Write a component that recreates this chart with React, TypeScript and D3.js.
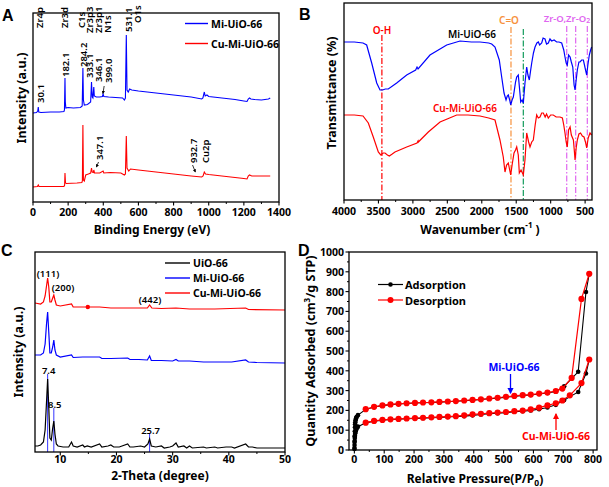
import React from "react";
import * as d3 from "d3";

type Pt = [number, number];
const FF = "'Noto Sans', 'DejaVu Sans', sans-serif";
const BLUE = "#0000ff";
const RED = "#ff0000";

// ---------- Panel A: XPS survey (binding energy eV, intensity a.u.) ----------
const xpsMi: Pt[] = [[0,89],[20,89.5],[27,91],[30,95],[33,90],[45,89.5],[100,90],[150,90],[176,90.5],[179,92],[182,124],[184,100],[187,94],[200,94.5],[230,94],[270,94.5],[280,96],[284,134],[287,102],[292,97],[310,97.5],[328,100],[333,120],[337,105],[341,104],[346,115],[349,106],[360,105],[380,105],[395,105.5],[399,108],[403,105.5],[430,105],[470,104.5],[510,104],[520,102],[526,104],[531,167],[535,112],[542,110],[550,113],[562,112],[600,111],[700,109],[800,107],[900,105],[960,103],[967,104],[975,110],[980,106],[990,107],[1000,105.5],[1050,104.5],[1100,103.5],[1150,102.5],[1200,101],[1218,100.5],[1225,103],[1232,104],[1240,103],[1260,102.5],[1300,102],[1340,103],[1350,104]];
const xpsCu: Pt[] = [[0,15],[25,15.5],[30,17],[34,15.5],[100,15.5],[176,15.5],[180,17],[182,29],[185,19],[190,18.5],[250,19],[278,19.5],[281,21],[284,77],[287,22],[292,21],[300,27],[315,28],[328,29],[333,34],[337,30],[343,29.5],[346,32],[350,29],[380,29],[399,31],[403,29],[440,29.5],[500,29],[520,27],[526,28],[531,66],[535,34],[545,31],[555,33],[600,32],[700,30],[800,28],[900,26],[960,25],[968,26],[975,30],[982,28],[1000,27.5],[1100,25.5],[1200,23.5],[1218,23],[1225,26],[1232,27],[1245,26],[1300,26],[1350,26]];
const xpsTicks = [0, 200, 400, 600, 800, 1000, 1200, 1400];
// [text, BE position, bottom of text (intensity units)]
const xpsLabelsTop: [string, number, number][] = [
  ["Zr4p", 34, 174], ["Zr3d", 176, 174], ["C1s", 274, 174], ["Zr3p3", 319, 169], ["Zr3p1", 370, 169], ["N1s", 421, 169],
  ["531.1", 540, 170], ["O1s", 592, 179],
  ["30.1", 40, 99], ["182.1", 182, 125], ["284.2", 284, 135], ["333.1", 319, 124], ["346.1", 370, 120], ["399.0", 427, 119],
];
const xpsLabelsRed: [string, number, number][] = [["347.1", 375, 42], ["932.7", 910, 39], ["Cu2p", 979, 39]];

// ---------- Panel B: FTIR ----------
const ftirMi: Pt[] = [[4000,158],[3850,158],[3724,157],[3671,155],[3598,137],[3525,117],[3477,110],[3440,110],[3400,111],[3357,111],[3235,117],[3090,125],[2960,130],[2940,133],[2925,131],[2752,145],[2509,155],[2316,159],[2150,158],[2026,158],[1900,157],[1856,156],[1808,153],[1746,140],[1711,123],[1677,107],[1648,100],[1630,104],[1615,105],[1595,100],[1580,95],[1560,100],[1542,103],[1510,118],[1493,123],[1470,125],[1450,110],[1435,98],[1415,100],[1397,97],[1373,117],[1348,133],[1330,125],[1310,120],[1290,130],[1275,137],[1250,147],[1227,153],[1200,157],[1179,158],[1160,155],[1130,157],[1110,162],[1082,161],[1060,156],[1034,157],[1010,161],[985,159],[950,160],[913,158],[880,158],[840,157],[810,150],[792,143],[775,137],[759,135],[740,145],[718,143],[700,138],[679,133],[660,115],[646,110],[630,120],[613,130],[590,138],[574,138],[550,140],[525,140],[500,132],[477,125],[460,135],[439,145],[420,150],[405,153]];
const ftirCu: Pt[] = [[4000,85],[3850,85],[3724,84],[3647,77],[3575,63],[3502,48],[3467,45],[3430,47],[3405,47],[3370,45],[3342,44],[3300,46],[3260,48],[3090,53],[2940,57],[2925,59],[2921,58],[2776,68],[2606,78],[2364,85],[2200,85],[2026,84],[1900,82],[1808,80],[1736,60],[1688,43],[1663,28],[1640,35],[1615,37],[1595,30],[1580,25],[1560,35],[1532,47],[1510,50],[1493,53],[1470,45],[1455,27],[1430,30],[1397,25],[1373,40],[1348,67],[1320,58],[1300,53],[1275,58],[1252,60],[1225,75],[1203,85],[1180,82],[1155,83],[1130,87],[1107,87],[1080,83],[1060,86],[1034,82],[1000,85],[962,85],[920,83],[865,83],[830,82],[810,75],[792,67],[775,58],[759,53],[740,70],[718,73],[700,65],[670,60],[655,48],[646,40],[630,52],[613,60],[590,66],[566,67],[540,64],[516,63],[495,58],[477,52],[455,62],[429,67],[405,65]];
const ftirTicks = [4000, 3500, 3000, 2500, 2000, 1500, 1000, 500];
// [wavenumber, top (T units), colour]
const ftirMarks: [number, number, string][] = [[3450, 165, "#ff0000"], [1576, 173, "#f7913d"], [1397, 171, "#129b5b"], [767, 174, "#e066f0"], [637, 174, "#e066f0"], [468, 174, "#e066f0"]];

// ---------- Panel C: XRD ----------
const xrdUiO: Pt[] = [[5.5,6],[6.0,6],[6.5,7],[7.0,10],[7.3,22],[7.55,50],[7.75,73],[7.95,45],[8.15,14],[8.4,12],[8.65,24],[8.85,31],[9.05,18],[9.3,8],[9.6,6],[10.5,5],[11.5,5],[12.0,10],[12.3,6],[13,5],[14.0,7],[14.3,5],[14.8,6],[15.5,5],[17.0,8],[17.4,5],[18.5,6],[19.0,7],[19.5,5],[20.5,5],[22.0,8],[22.4,5],[23,5],[24.3,6],[25.0,5],[25.6,8],[25.9,13],[26.2,6],[27,5],[28.0,6],[28.5,4],[29.5,5],[30.0,6],[30.6,9],[31,5],[32.0,6],[32.5,4],[33.0,6],[33.5,4],[35.5,5],[36,4],[37.5,5],[38,4],[39.5,5],[40.5,5],[41,4],[43.0,8],[43.5,5],[44.2,5],[45,4],[46.5,4],[48,4],[50,4]];
const xrdMi: Pt[] = [[5.5,97],[6.5,97],[7.0,99],[7.3,108],[7.55,128],[7.75,140],[7.95,120],[8.15,99],[8.4,99],[8.65,105],[8.85,112],[9.05,102],[9.3,97],[10,95],[12,97],[12.3,94.5],[14,95],[17,95],[17.4,93.5],[19,93.5],[22,94],[22.4,92.5],[24,92.5],[25.5,92],[25.9,96],[26.2,91.5],[28,91.5],[30,91],[30.6,92.5],[31,91],[33,91],[35.5,90],[37.5,90],[40.5,90],[43,92],[43.5,90],[45,89.5],[50,89]];
const xrdCu: Pt[] = [[5.5,149],[6.5,148],[7.0,150],[7.3,156],[7.55,166],[7.75,174],[7.95,165],[8.15,150],[8.4,150],[8.65,154],[8.85,157],[9.05,152],[9.3,147],[10,146],[12,148],[12.3,145],[14,145],[14.9,145],[17,145],[19,144],[22,144],[25.5,144],[25.9,147],[26.3,144],[28,143.5],[30.6,144],[33,143],[37.5,143],[43,144],[43.5,142.5],[50,142]];
const xrdDot: Pt = [14.9, 145];
const xrdTicks = [10, 20, 30, 40, 50];
// [text, 2θ position, label centre height, line top]
const xrdPeakLabels: [string, number, number, number][] = [["7.4", 7.75, 82, 78], ["8.5", 8.85, 48, 44], ["25.7", 25.9, 22, 18]];

// ---------- Panel D: N2 isotherms ----------
const miAds: Pt[] = [[0.3,10],[0.6,40],[1,70],[1.5,95],[2,115],[2.5,130],[3,140],[4,150],[5,157],[6,162],[8,168],[12,176],[38,205],[66,217],[94,224],[121,229],[148,232],[175,235],[203,237],[230,239],[258,240],[285,242],[313,244],[340,246],[368,249],[396,252],[424,255],[452,259],[480,262],[508,267],[536,271],[564,275],[591,278],[619,283],[647,288],[675,295],[703,322],[750,395],[776,798],[787,890]];
const miDes: Pt[] = [[787,890],[761,763],[728,364],[697,310],[675,298],[647,290],[619,285],[591,280],[564,277],[536,273],[508,269],[480,264],[452,260],[424,256],[396,253],[368,250],[340,247],[313,245],[285,243],[258,241],[230,240],[203,238],[175,236],[148,233],[121,230],[94,225],[66,218],[38,206]];
const cuAds: Pt[] = [[0.3,5],[0.6,25],[1,45],[1.5,60],[2,72],[3,85],[4,93],[5,99],[6,104],[8,110],[12,118],[38,137],[66,146],[94,151],[121,154],[148,156],[175,158],[203,159],[230,161],[258,163],[285,164],[313,167],[340,169],[368,171],[396,175],[424,179],[452,183],[480,186],[508,189],[536,193],[564,196],[591,200],[619,206],[647,215],[675,228],[703,252],[750,293],[776,386],[787,457]];
const cuDes: Pt[] = [[787,457],[761,338],[722,276],[697,250],[675,236],[647,225],[619,214],[591,205],[564,199],[536,196],[508,192],[480,189],[452,186],[424,183],[396,180],[368,175],[340,171],[313,169],[285,167],[258,165],[230,163],[203,161],[175,159],[148,157],[121,155],[94,152],[66,147],[38,138]];
const isoXTicks = [0, 100, 200, 300, 400, 500, 600, 700, 800];
const isoYTicks = [0, 100, 200, 300, 400, 500, 600, 700, 800, 900, 1000];

const txt = (extra: any = {}) => ({ fontFamily: FF, fontWeight: 700, fill: "#000", ...extra });

function Box({ x0, x1, y0, y1 }: { x0: number; x1: number; y0: number; y1: number }) {
  return <rect x={x0} y={y0} width={x1 - x0} height={y1 - y0} fill="none" stroke="#000" strokeWidth={1.3} />;
}

function BottomTicks({ scale, ticks, minors, y, labelY, fmt }: any) {
  return (
    <g>
      {minors.map((t: number, i: number) => (
        <line key={"m" + i} x1={scale(t)} x2={scale(t)} y1={y} y2={y + 2} stroke="#000" strokeWidth={1} />
      ))}
      {ticks.map((t: number, i: number) => (
        <g key={i}>
          <line x1={scale(t)} x2={scale(t)} y1={y} y2={y + 3.5} stroke="#000" strokeWidth={1.1} />
          <text x={scale(t)} y={labelY} textAnchor="middle" dominantBaseline="central" {...txt({ fontSize: 10.5 })}>
            {fmt ? fmt(t) : t}
          </text>
        </g>
      ))}
    </g>
  );
}

export default function App() {
  // ---- scales
  const axA = d3.scaleLinear().domain([0, 1400]).range([33, 279]);
  const ayA = d3.scaleLinear().domain([0, 189]).range([202, 13]);
  const axB = d3.scaleLinear().domain([4000, 400]).range([344, 592]);
  const ayB = d3.scaleLinear().domain([0, 197]).range([200, 3]);
  const axC = d3.scaleLinear().domain([5.5, 50]).range([35, 285]);
  const ayC = d3.scaleLinear().domain([0, 200]).range([452, 252]);
  const axD = d3.scaleLinear().domain([-18, 813]).range([349, 597]);
  const ayD = d3.scaleLinear().domain([0, 1000]).range([450, 252]);

  const lineA = d3.line<Pt>().x((d) => axA(d[0])).y((d) => ayA(d[1]));
  const lineB = d3.line<Pt>().x((d) => axB(d[0])).y((d) => ayB(d[1]));
  const lineC = d3.line<Pt>().x((d) => axC(d[0])).y((d) => ayC(d[1]));
  const lineD = d3.line<Pt>().x((d) => axD(d[0])).y((d) => ayD(d[1]));

  const rotLabel = (key: string, s: string, x: number, yb: number, color: string, size = 9.5) => (
    <text key={key} transform={`translate(${x},${yb}) rotate(-90)`} textAnchor="start" dominantBaseline="central" {...txt({ fontSize: size, fontWeight: 600, fill: color })}>
      {s}
    </text>
  );

  const yTitle = (s: any, x: number, y: number) => (
    <text transform={`translate(${x},${y}) rotate(-90)`} textAnchor="middle" dominantBaseline="central" {...txt({ fontSize: 12.5 })}>
      {s}
    </text>
  );

  const range = (a: number, b: number, s: number) => d3.range(a, b + 1e-9, s);

  return (
    <svg width={609} height={487} viewBox="0 0 609 487" style={{ position: "absolute", left: 0, top: 0, background: "#fff" }}>
      <rect x={0} y={0} width={609} height={487} fill="#fff" />
      <defs>
        <marker id="arrK" viewBox="0 0 6 6" refX="5" refY="3" markerWidth="4" markerHeight="4" orient="auto">
          <path d="M0,0 L6,3 L0,6 z" fill="#000" />
        </marker>
        <marker id="arrB" viewBox="0 0 6 6" refX="5" refY="3" markerWidth="5" markerHeight="5" orient="auto">
          <path d="M0,0 L6,3 L0,6 z" fill={BLUE} />
        </marker>
        <marker id="arrR" viewBox="0 0 6 6" refX="5" refY="3" markerWidth="5" markerHeight="5" orient="auto">
          <path d="M0,0 L6,3 L0,6 z" fill={RED} />
        </marker>
      </defs>

      {/* ================= Panel A ================= */}
      <text x={2} y={21} {...txt({ fontSize: 16, fontFamily: "'Liberation Sans', Arial, sans-serif" })}>A</text>
      <path d={lineA(xpsMi) || ""} fill="none" stroke={BLUE} strokeWidth={1.1} />
      <path d={lineA(xpsCu) || ""} fill="none" stroke={RED} strokeWidth={1.1} />
      <Box x0={33} x1={279} y0={13} y1={202} />
      <BottomTicks scale={axA} ticks={xpsTicks} minors={range(100, 1300, 200)} y={202} labelY={212} />
      {xpsLabelsTop.map((l, i) => rotLabel("a" + i, l[0], axA(l[1]) + 0.5, ayA(l[2]), "#000"))}
      {xpsLabelsRed.map((l, i) => rotLabel("r" + i, l[0], axA(l[1]) + 0.5, ayA(l[2]), "#000"))}
      <line x1={axA(405)} y1={ayA(116)} x2={axA(398)} y2={ayA(108.5)} stroke="#000" strokeWidth={0.8} markerEnd="url(#arrK)" />
      <line x1={axA(373)} y1={ayA(40)} x2={axA(361)} y2={ayA(35)} stroke="#000" strokeWidth={0.8} markerEnd="url(#arrK)" />
      <line x1={axA(908)} y1={ayA(37)} x2={axA(924)} y2={ayA(30)} stroke="#000" strokeWidth={0.8} markerEnd="url(#arrK)" />
      <line x1={185} x2={208} y1={23.5} y2={23.5} stroke={BLUE} strokeWidth={1.4} />
      <text x={211} y={23.5} dominantBaseline="central" {...txt({ fontSize: 10.5 })}>Mi-UiO-66</text>
      <line x1={185} x2={208} y1={43.5} y2={43.5} stroke={RED} strokeWidth={1.4} />
      <text x={211} y={43.5} dominantBaseline="central" {...txt({ fontSize: 10.5 })}>Cu-Mi-UiO-66</text>
      <text x={152} y={229} textAnchor="middle" dominantBaseline="central" {...txt({ fontSize: 12 })}>Binding Energy (eV)</text>
      {yTitle("Intensity (a.u.)", 21, 98)}

      {/* ================= Panel B ================= */}
      <text x={299} y={20} {...txt({ fontSize: 16, fontFamily: "'Liberation Sans', Arial, sans-serif" })}>B</text>
      {ftirMarks.map((m, i) => (
        <line key={i} x1={axB(m[0])} x2={axB(m[0])} y1={ayB(m[1])} y2={200} stroke={m[2]} strokeWidth={1.2} strokeDasharray="6,2,1.5,2" />
      ))}
      <path d={lineB(ftirMi) || ""} fill="none" stroke={BLUE} strokeWidth={1.2} />
      <path d={lineB(ftirCu) || ""} fill="none" stroke={RED} strokeWidth={1.2} />
      <Box x0={344} x1={592} y0={3} y1={200} />
      <BottomTicks scale={axB} ticks={ftirTicks} minors={range(750, 3750, 500)} y={200} labelY={211} />
      <text x={382} y={30} textAnchor="middle" dominantBaseline="central" {...txt({ fontSize: 10, fontWeight: 600, fill: RED })}>O-H</text>
      <text x={509} y={20} textAnchor="middle" dominantBaseline="central" {...txt({ fontSize: 10, fontWeight: 600, fill: "#f7913d" })}>C=O</text>
      <text x={567} y={18} textAnchor="middle" dominantBaseline="central" {...txt({ fontSize: 9.5, fontWeight: 600, fill: "#e066f0" })}>
        Zr-O,Zr-O<tspan fontSize={7} dy={2}>2</tspan>
      </text>
      <text x={472} y={34} textAnchor="middle" dominantBaseline="central" {...txt({ fontSize: 10, fontWeight: 600 })}>Mi-UiO-66</text>
      <text x={465} y={108} textAnchor="middle" dominantBaseline="central" {...txt({ fontSize: 10, fontWeight: 600, fill: RED })}>Cu-Mi-UiO-66</text>
      <text x={480} y={229} textAnchor="middle" dominantBaseline="central" {...txt({ fontSize: 12 })}>
        Wavenumber  (cm<tspan fontSize={8} dy={-5}>-1</tspan><tspan dy={5}> )</tspan>
      </text>
      {yTitle("Transmittance (%)", 331.5, 93)}

      {/* ================= Panel C ================= */}
      <text x={1} y={256} {...txt({ fontSize: 16, fontFamily: "'Liberation Sans', Arial, sans-serif" })}>C</text>
      {xrdPeakLabels.map((l, i) => (
        <line key={i} x1={axC(l[1])} x2={axC(l[1])} y1={ayC(l[3])} y2={452} stroke={BLUE} strokeWidth={0.8} />
      ))}
      <path d={lineC(xrdUiO) || ""} fill="none" stroke="#000" strokeWidth={1.2} />
      <path d={lineC(xrdMi) || ""} fill="none" stroke={BLUE} strokeWidth={1.2} />
      <path d={lineC(xrdCu) || ""} fill="none" stroke={RED} strokeWidth={1.2} />
      <circle cx={axC(xrdDot[0])} cy={ayC(xrdDot[1])} r={2.2} fill={RED} />
      <Box x0={35} x1={285} y0={252} y1={452} />
      <BottomTicks scale={axC} ticks={xrdTicks} minors={range(15, 45, 10)} y={452} labelY={459} />
      {xrdPeakLabels.map((l, i) => (
        <text key={i} x={axC(l[1]) + 1} y={ayC(l[2])} textAnchor="middle" dominantBaseline="central" {...txt({ fontSize: 9.5, fontWeight: 600 })}>{l[0]}</text>
      ))}
      <text x={48} y={273} textAnchor="middle" dominantBaseline="central" {...txt({ fontSize: 9.5, fontWeight: 600 })}>(111)</text>
      <text x={63} y={287} textAnchor="middle" dominantBaseline="central" {...txt({ fontSize: 9.5, fontWeight: 600 })}>(200)</text>
      <text x={150} y={299} textAnchor="middle" dominantBaseline="central" {...txt({ fontSize: 9.5, fontWeight: 600 })}>(442)</text>
      {[["UiO-66", "#000", 263], ["Mi-UiO-66", BLUE, 278], ["Cu-Mi-UiO-66", RED, 293]].map((l: any, i) => (
        <g key={i}>
          <line x1={165} x2={190} y1={l[2]} y2={l[2]} stroke={l[1]} strokeWidth={1.4} />
          <text x={193} y={l[2]} dominantBaseline="central" {...txt({ fontSize: 10.5 })}>{l[0]}</text>
        </g>
      ))}
      <text x={160} y={475} textAnchor="middle" dominantBaseline="central" {...txt({ fontSize: 12 })}>2-Theta (degree)</text>
      {yTitle("Intensity (a.u.)", 18.5, 352)}

      {/* ================= Panel D ================= */}
      <text x={298} y={256} {...txt({ fontSize: 16, fontFamily: "'Liberation Sans', Arial, sans-serif" })}>D</text>
      {[[miAds, miDes], [cuAds, cuDes]].map((pair, k) => (
        <g key={k}>
          <path d={lineD(pair[0]) || ""} fill="none" stroke="#000" strokeWidth={1.1} />
          {pair[0].map((p, i) => (
            <circle key={"a" + i} cx={axD(p[0])} cy={ayD(p[1])} r={2.3} fill="#000" />
          ))}
          <path d={lineD(pair[1]) || ""} fill="none" stroke={RED} strokeWidth={1.2} />
          {pair[1].map((p, i) => (
            <circle key={"d" + i} cx={axD(p[0])} cy={ayD(p[1])} r={3.1} fill={RED} />
          ))}
        </g>
      ))}
      <Box x0={349} x1={597} y0={252} y1={450} />
      <BottomTicks scale={axD} ticks={isoXTicks} minors={range(50, 750, 100)} y={450} labelY={459} />
      {range(50, 950, 100).map((t, i) => (
        <line key={"ym" + i} x1={347} x2={349} y1={ayD(t)} y2={ayD(t)} stroke="#000" strokeWidth={1} />
      ))}
      {isoYTicks.map((t, i) => (
        <g key={"y" + i}>
          <line x1={345.5} x2={349} y1={ayD(t)} y2={ayD(t)} stroke="#000" strokeWidth={1.1} />
          <text x={344} y={ayD(t)} textAnchor="end" dominantBaseline="central" {...txt({ fontSize: 10.5 })}>{t}</text>
        </g>
      ))}
      <line x1={378} x2={403} y1={284.5} y2={284.5} stroke="#000" strokeWidth={1.2} />
      <circle cx={390.5} cy={284.5} r={2.3} fill="#000" />
      <text x={405} y={284.5} dominantBaseline="central" {...txt({ fontSize: 11 })}>Adsorption</text>
      <line x1={378} x2={403} y1={300} y2={300} stroke={RED} strokeWidth={1.2} />
      <circle cx={390.5} cy={300} r={3} fill={RED} />
      <text x={405} y={300} dominantBaseline="central" {...txt({ fontSize: 11 })}>Desorption</text>
      <text x={514} y={367} textAnchor="middle" dominantBaseline="central" {...txt({ fontSize: 10.5, fill: BLUE })}>Mi-UiO-66</text>
      <line x1={510.5} x2={510.5} y1={374} y2={393} stroke={BLUE} strokeWidth={1.3} markerEnd="url(#arrB)" />
      <text x={556} y={436} textAnchor="middle" dominantBaseline="central" {...txt({ fontSize: 10.5, fill: RED })}>Cu-Mi-UiO-66</text>
      <line x1={556} x2={556} y1={430} y2={414} stroke={RED} strokeWidth={1.3} markerEnd="url(#arrR)" />
      <text x={475} y={478.5} textAnchor="middle" dominantBaseline="central" {...txt({ fontSize: 12 })}>
        Relative Pressure(P/P<tspan fontSize={8.5} dy={3}>0</tspan><tspan dy={-3}>)</tspan>
      </text>
      {yTitle(<>Quantity Adsorbed (cm<tspan fontSize={8} dy={-4}>3</tspan><tspan dy={4}>/g STP)</tspan></>, 310, 351)}
    </svg>
  );
}
